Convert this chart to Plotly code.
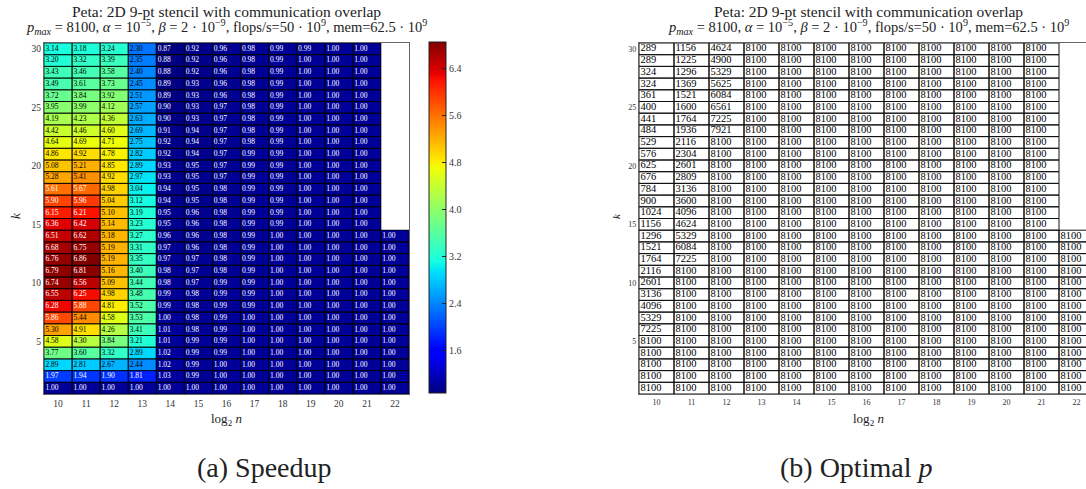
import plotly.graph_objects as go

W, H = 1086, 489

# ---------------- data ----------------
N = [10, 11, 12, 13, 14, 15, 16, 17, 18, 19, 20, 21, 22]
K = [30, 29, 28, 27, 26, 25, 24, 23, 22, 21, 20, 19, 18, 17, 16,
     15, 14, 13, 12, 11, 10, 9, 8, 7, 6, 5, 4, 3, 2, 1]

# speedup, one row per k (k = 30 ... 1), columns n = 10 ... 22
speedup = [
    [3.14, 3.18, 3.24, 2.30, 0.87, 0.92, 0.96, 0.98, 0.99, 0.99, 1.00, 1.00, None],
    [3.20, 3.32, 3.39, 2.35, 0.88, 0.92, 0.96, 0.98, 0.99, 1.00, 1.00, 1.00, None],
    [3.43, 3.46, 3.58, 2.40, 0.88, 0.92, 0.96, 0.98, 0.99, 1.00, 1.00, 1.00, None],
    [3.49, 3.61, 3.73, 2.45, 0.89, 0.93, 0.96, 0.98, 0.99, 1.00, 1.00, 1.00, None],
    [3.72, 3.84, 3.92, 2.51, 0.89, 0.93, 0.96, 0.98, 0.99, 1.00, 1.00, 1.00, None],
    [3.95, 3.99, 4.12, 2.57, 0.90, 0.93, 0.97, 0.98, 0.99, 1.00, 1.00, 1.00, None],
    [4.19, 4.23, 4.36, 2.63, 0.90, 0.93, 0.97, 0.98, 0.99, 1.00, 1.00, 1.00, None],
    [4.42, 4.46, 4.60, 2.69, 0.91, 0.94, 0.97, 0.98, 0.99, 1.00, 1.00, 1.00, None],
    [4.64, 4.69, 4.71, 2.75, 0.92, 0.94, 0.97, 0.98, 0.99, 1.00, 1.00, 1.00, None],
    [4.86, 4.92, 4.78, 2.82, 0.92, 0.94, 0.97, 0.99, 0.99, 1.00, 1.00, 1.00, None],
    [5.08, 5.21, 4.85, 2.89, 0.93, 0.95, 0.97, 0.99, 0.99, 1.00, 1.00, 1.00, None],
    [5.28, 5.41, 4.92, 2.97, 0.93, 0.95, 0.97, 0.99, 0.99, 1.00, 1.00, 1.00, None],
    [5.61, 5.67, 4.98, 3.04, 0.94, 0.95, 0.98, 0.99, 0.99, 1.00, 1.00, 1.00, None],
    [5.90, 5.96, 5.04, 3.12, 0.94, 0.95, 0.98, 0.99, 0.99, 1.00, 1.00, 1.00, None],
    [6.15, 6.21, 5.10, 3.19, 0.95, 0.96, 0.98, 0.99, 0.99, 1.00, 1.00, 1.00, None],
    [6.36, 6.42, 5.14, 3.23, 0.95, 0.96, 0.98, 0.99, 0.99, 1.00, 1.00, 1.00, None],
    [6.51, 6.62, 5.18, 3.27, 0.96, 0.96, 0.98, 0.99, 1.00, 1.00, 1.00, 1.00, 1.00],
    [6.68, 6.75, 5.19, 3.31, 0.97, 0.96, 0.98, 0.99, 1.00, 1.00, 1.00, 1.00, 1.00],
    [6.76, 6.86, 5.19, 3.35, 0.97, 0.97, 0.98, 0.99, 1.00, 1.00, 1.00, 1.00, 1.00],
    [6.79, 6.81, 5.16, 3.40, 0.98, 0.97, 0.98, 0.99, 1.00, 1.00, 1.00, 1.00, 1.00],
    [6.74, 6.56, 5.09, 3.44, 0.98, 0.97, 0.99, 0.99, 1.00, 1.00, 1.00, 1.00, 1.00],
    [6.55, 6.25, 4.98, 3.48, 0.99, 0.98, 0.99, 0.99, 1.00, 1.00, 1.00, 1.00, 1.00],
    [6.28, 5.88, 4.81, 3.52, 0.99, 0.98, 0.99, 0.99, 1.00, 1.00, 1.00, 1.00, 1.00],
    [5.86, 5.44, 4.58, 3.53, 1.00, 0.98, 0.99, 1.00, 1.00, 1.00, 1.00, 1.00, 1.00],
    [5.30, 4.91, 4.26, 3.41, 1.01, 0.98, 0.99, 1.00, 1.00, 1.00, 1.00, 1.00, 1.00],
    [4.58, 4.30, 3.84, 3.21, 1.01, 0.99, 0.99, 1.00, 1.00, 1.00, 1.00, 1.00, 1.00],
    [3.77, 3.60, 3.32, 2.89, 1.02, 0.99, 0.99, 1.00, 1.00, 1.00, 1.00, 1.00, 1.00],
    [2.89, 2.81, 2.67, 2.44, 1.02, 0.99, 1.00, 1.00, 1.00, 1.00, 1.00, 1.00, 1.00],
    [1.97, 1.94, 1.90, 1.81, 1.03, 0.99, 1.00, 1.00, 1.00, 1.00, 1.00, 1.00, 1.00],
    [1.00, 1.00, 1.00, 1.00, 1.00, 1.00, 1.00, 1.00, 1.00, 1.00, 1.00, 1.00, 1.00],
]

# optimal p, one row per k (k = 30 ... 1), columns n = 10 ... 22
optimal_p = [
    [289, 1156, 4624, 8100, 8100, 8100, 8100, 8100, 8100, 8100, 8100, 8100, None],
    [289, 1225, 4900, 8100, 8100, 8100, 8100, 8100, 8100, 8100, 8100, 8100, None],
    [324, 1296, 5329, 8100, 8100, 8100, 8100, 8100, 8100, 8100, 8100, 8100, None],
    [324, 1369, 5625, 8100, 8100, 8100, 8100, 8100, 8100, 8100, 8100, 8100, None],
    [361, 1521, 6084, 8100, 8100, 8100, 8100, 8100, 8100, 8100, 8100, 8100, None],
    [400, 1600, 6561, 8100, 8100, 8100, 8100, 8100, 8100, 8100, 8100, 8100, None],
    [441, 1764, 7225, 8100, 8100, 8100, 8100, 8100, 8100, 8100, 8100, 8100, None],
    [484, 1936, 7921, 8100, 8100, 8100, 8100, 8100, 8100, 8100, 8100, 8100, None],
    [529, 2116, 8100, 8100, 8100, 8100, 8100, 8100, 8100, 8100, 8100, 8100, None],
    [576, 2304, 8100, 8100, 8100, 8100, 8100, 8100, 8100, 8100, 8100, 8100, None],
    [625, 2601, 8100, 8100, 8100, 8100, 8100, 8100, 8100, 8100, 8100, 8100, None],
    [676, 2809, 8100, 8100, 8100, 8100, 8100, 8100, 8100, 8100, 8100, 8100, None],
    [784, 3136, 8100, 8100, 8100, 8100, 8100, 8100, 8100, 8100, 8100, 8100, None],
    [900, 3600, 8100, 8100, 8100, 8100, 8100, 8100, 8100, 8100, 8100, 8100, None],
    [1024, 4096, 8100, 8100, 8100, 8100, 8100, 8100, 8100, 8100, 8100, 8100, None],
    [1156, 4624, 8100, 8100, 8100, 8100, 8100, 8100, 8100, 8100, 8100, 8100, None],
    [1296, 5329, 8100, 8100, 8100, 8100, 8100, 8100, 8100, 8100, 8100, 8100, 8100],
    [1521, 6084, 8100, 8100, 8100, 8100, 8100, 8100, 8100, 8100, 8100, 8100, 8100],
    [1764, 7225, 8100, 8100, 8100, 8100, 8100, 8100, 8100, 8100, 8100, 8100, 8100],
    [2116, 8100, 8100, 8100, 8100, 8100, 8100, 8100, 8100, 8100, 8100, 8100, 8100],
    [2601, 8100, 8100, 8100, 8100, 8100, 8100, 8100, 8100, 8100, 8100, 8100, 8100],
    [3136, 8100, 8100, 8100, 8100, 8100, 8100, 8100, 8100, 8100, 8100, 8100, 8100],
    [4096, 8100, 8100, 8100, 8100, 8100, 8100, 8100, 8100, 8100, 8100, 8100, 8100],
    [5329, 8100, 8100, 8100, 8100, 8100, 8100, 8100, 8100, 8100, 8100, 8100, 8100],
    [7225, 8100, 8100, 8100, 8100, 8100, 8100, 8100, 8100, 8100, 8100, 8100, 8100],
    [8100, 8100, 8100, 8100, 8100, 8100, 8100, 8100, 8100, 8100, 8100, 8100, 8100],
    [8100, 8100, 8100, 8100, 8100, 8100, 8100, 8100, 8100, 8100, 8100, 8100, 8100],
    [8100, 8100, 8100, 8100, 8100, 8100, 8100, 8100, 8100, 8100, 8100, 8100, 8100],
    [8100, 8100, 8100, 8100, 8100, 8100, 8100, 8100, 8100, 8100, 8100, 8100, 8100],
    [8100, 8100, 8100, 8100, 8100, 8100, 8100, 8100, 8100, 8100, 8100, 8100, 8100],
]

K_TICKS = [5, 10, 15, 20, 25, 30]
CBAR_TICKS = [1.6, 2.4, 3.2, 4.0, 4.8, 5.6, 6.4]

# ---------------- style ----------------
SERIF = "Liberation Serif"
ZMIN, ZMAX = 0.87, 6.86


def px(x):
    return x / W


def py(y):
    return 1 - y / H


# matplotlib "jet" colormap
_jet = {
    "r": [(0.0, 0.0), (0.35, 0.0), (0.66, 1.0), (0.89, 1.0), (1.0, 0.5)],
    "g": [(0.0, 0.0), (0.125, 0.0), (0.375, 1.0), (0.64, 1.0), (0.91, 0.0), (1.0, 0.0)],
    "b": [(0.0, 0.5), (0.11, 1.0), (0.34, 1.0), (0.65, 0.0), (1.0, 0.0)],
}


def _interp(pts, t):
    for (x0, y0), (x1, y1) in zip(pts[:-1], pts[1:]):
        if x0 <= t <= x1:
            return y0 + (y1 - y0) * (t - x0) / (x1 - x0) if x1 > x0 else y1
    return pts[-1][1]


stops = sorted({s for ch in _jet.values() for s, _ in ch})
jet = [[s, "rgb(%d,%d,%d)" % tuple(round(255 * _interp(_jet[c], s)) for c in "rgb")] for s in stops]


def outlines(values):
    gx, gy = [], []
    for i, k in enumerate(K):
        for j, n in enumerate(N):
            if values[i][j] is None:
                continue
            gx += [n - 0.5, n + 0.5, n + 0.5, n - 0.5, n - 0.5, None]
            gy += [k - 0.5, k - 0.5, k + 0.5, k + 0.5, k - 0.5, None]
    return gx, gy


fig = go.Figure()

# ---- left: speedup heatmap ----
fig.add_trace(go.Heatmap(
    x=N, y=K, z=speedup, colorscale=jet, zmin=ZMIN, zmax=ZMAX,
    xaxis="x", yaxis="y", hoverinfo="skip",
    colorbar=dict(
        x=px(429), xanchor="left", xpad=0, ypad=0,
        y=py((42 + 393) / 2), yanchor="middle",
        thickness=17, thicknessmode="pixels",
        len=(393 - 42) / H, lenmode="fraction",
        outlinewidth=1, outlinecolor="#222",
        tickvals=CBAR_TICKS, ticktext=["%.1f" % v for v in CBAR_TICKS],
        ticks="inside", ticklen=4, tickcolor="#222",
        tickfont=dict(family=SERIF, size=10, color="#333"),
    ),
))

gx, gy = outlines(speedup)
fig.add_trace(go.Scatter(x=gx, y=gy, mode="lines", xaxis="x", yaxis="y",
                         line=dict(color="rgba(0,0,0,0.75)", width=1),
                         hoverinfo="skip", showlegend=False))

tx, ty, tt, tc = [], [], [], []
for i, k in enumerate(K):
    for j, n in enumerate(N):
        v = speedup[i][j]
        if v is None:
            continue
        tx.append(n - 0.45)
        ty.append(k)
        tt.append("%.2f" % v)
        tc.append("white" if (v < 2.0 or v > 5.5) else "black")
fig.add_trace(go.Scatter(x=tx, y=ty, text=tt, mode="text", textposition="middle right",
                         textfont=dict(family=SERIF, size=7.5, color=tc),
                         xaxis="x", yaxis="y", hoverinfo="skip", showlegend=False))

# ---- right: optimal p table ----
gx2, gy2 = outlines(optimal_p)
fig.add_trace(go.Scatter(x=gx2, y=gy2, mode="lines", xaxis="x2", yaxis="y2",
                         line=dict(color="#111", width=1),
                         hoverinfo="skip", showlegend=False))
tx2, ty2, tt2 = [], [], []
for i, k in enumerate(K):
    for j, n in enumerate(N):
        v = optimal_p[i][j]
        if v is None:
            continue
        tx2.append(n - 0.46)
        ty2.append(k)
        tt2.append(str(v))
fig.add_trace(go.Scatter(x=tx2, y=ty2, text=tt2, mode="text", textposition="middle right",
                         textfont=dict(family=SERIF, size=10.5, color="black"),
                         xaxis="x2", yaxis="y2", hoverinfo="skip", showlegend=False))

COLW = 35.0
axis_common = dict(showgrid=False, zeroline=False, showline=True, linecolor="#666",
                   linewidth=1.2, ticks="", color="#333")

fig.update_layout(
    width=W, height=H, margin=dict(l=0, r=0, t=0, b=0),
    paper_bgcolor="white", plot_bgcolor="white", showlegend=False,
    xaxis=dict(domain=[px(44), px(409)], range=[N[0] - 0.5, N[-1] + 0.5], anchor="y",
               tickvals=N, ticktext=[str(n) for n in N], mirror=True,
               tickfont=dict(family=SERIF, size=9.5), **axis_common),
    yaxis=dict(domain=[py(394), py(43)], range=[0.5, 30.5], anchor="x",
               tickvals=K_TICKS, ticktext=[str(k) for k in K_TICKS], mirror=True,
               tickfont=dict(family=SERIF, size=9.5), **axis_common),
    xaxis2=dict(domain=[px(639), 1.0], range=[N[0] - 0.5, N[0] - 0.5 + (W - 639) / COLW],
                anchor="y2", tickvals=N, ticktext=[str(n) for n in N], mirror=True,
                tickfont=dict(family=SERIF, size=8), **axis_common),
    yaxis2=dict(domain=[py(394), py(43)], range=[0.5, 30.5], anchor="x2",
                tickvals=K_TICKS, ticktext=[str(k) for k in K_TICKS],
                tickfont=dict(family=SERIF, size=8), **axis_common),
)

title1 = "Peta: 2D 9-pt stencil with communication overlap"
title2 = ("<i>p<sub>max</sub></i> = 8100, <i>α</i> = 10<sup>−5</sup>, <i>β</i> = 2 · 10<sup>−9</sup>, "
          "flops/s=50 · 10<sup>9</sup>, mem=62.5 · 10<sup>9</sup>")
ann = []
for cx in (226, 868):
    ann.append(dict(x=px(cx), y=py(11), text=title1, size=15.5))
    ann.append(dict(x=px(cx), y=py(27), text=title2, size=14.5))
    ann.append(dict(x=px(cx), y=py(419), text="log<sub>2</sub> <i>n</i>"))
ann.append(dict(x=px(15), y=py(216), text="<i>k</i>", textangle=-90))
ann.append(dict(x=px(616), y=py(216), text="<i>k</i>", textangle=-90, size=11))
ann.append(dict(x=px(264), y=py(467), text="(a) Speedup", size=28))
ann.append(dict(x=px(856), y=py(467), text="(b) Optimal <i>p</i>", size=28))

annotations = []
for a in ann:
    size = a.pop("size", 13)
    annotations.append(dict(xref="paper", yref="paper", showarrow=False,
                            xanchor="center", yanchor="middle",
                            font=dict(family=SERIF, size=size, color="#222"), **a))
fig.update_layout(annotations=annotations)

fig.write_html("out.html")
